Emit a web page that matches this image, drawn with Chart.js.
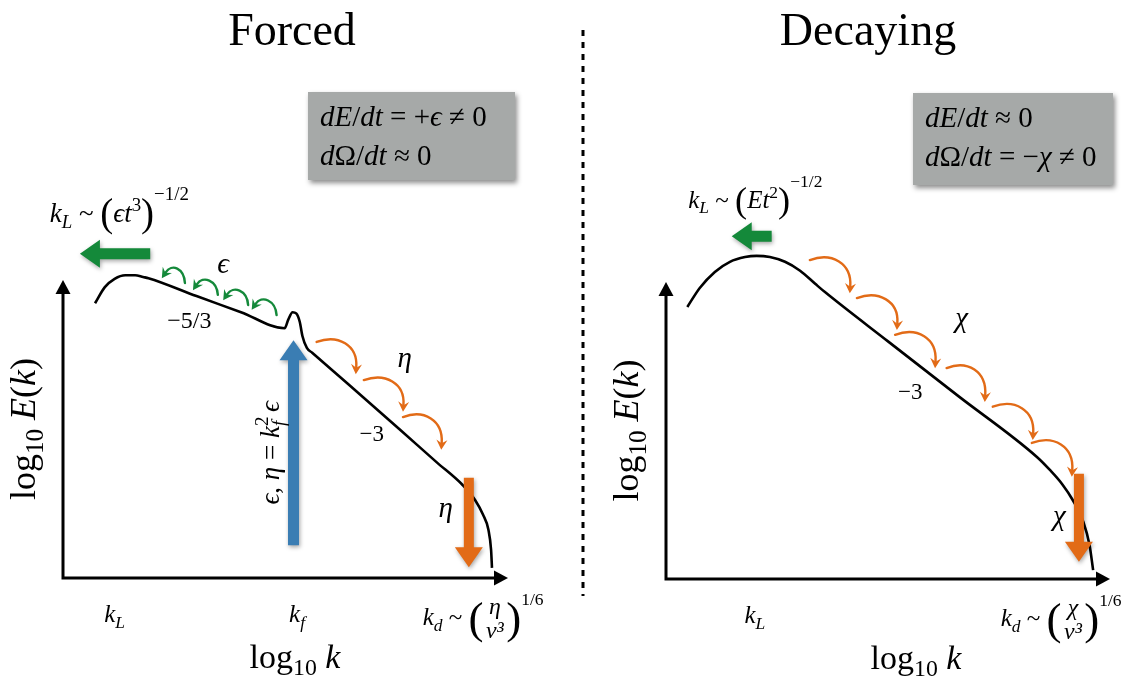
<!DOCTYPE html>
<html>
<head>
<meta charset="utf-8">
<script src="https://cdn.jsdelivr.net/npm/chart.js@4.4.1/dist/chart.umd.min.js"></script>
<style>
  html, body { margin: 0; padding: 0; background: #fff; }
  #wrap { position: relative; width: 1125px; height: 682px; overflow: hidden; }
  #forced { position: absolute; left: 0; top: 0; }
  #decaying { position: absolute; left: 590px; top: 0; }
</style>
</head>
<body>
<div id="wrap">
  <canvas id="forced" width="590" height="682"></canvas>
  <canvas id="decaying" width="535" height="682"></canvas>
</div>
<script>
'use strict';

// energy spectra, log10 k against log10 E(k) (schematic units)
const forcedLogK = [0.36, 0.47, 0.58, 0.70, 0.81, 0.90, 0.96, 1.50, 2.00, 2.49, 2.53, 2.58, 2.62, 2.66, 2.69, 2.74, 2.80, 3.20, 3.80, 4.20, 4.49, 4.63, 4.72, 4.78, 4.81, 4.82];
const forcedLogE = [4.61, 4.88, 5.02, 5.08, 5.08, 5.05, 5.03, 4.73, 4.46, 4.19, 4.33, 4.46, 4.44, 4.30, 4.06, 3.86, 3.78, 3.26, 2.47, 1.94, 1.56, 1.31, 1.06, 0.81, 0.47, 0.17];
const decayLogK = [0.24, 0.38, 0.55, 0.72, 0.89, 1.02, 1.17, 1.34, 1.51, 1.68, 1.79, 2.50, 3.30, 4.18, 4.32, 4.46, 4.58, 4.70, 4.77, 4.81];
const decayLogE = [4.58, 4.90, 5.17, 5.34, 5.42, 5.44, 5.42, 5.34, 5.19, 4.97, 4.83, 4.00, 3.07, 2.05, 1.84, 1.60, 1.33, 0.96, 0.57, 0.15];

// wavenumbers marked under the k axis
const forcedTickNames = ['kL', 'kf', 'kd'];
const forcedTickK = [0.58, 2.63, 4.72];
const decayTickNames = ['kL', 'kd'];
const decayTickK = [1.00, 4.45];

const SERIF = '"Liberation Serif", "DejaVu Serif", serif';
const GREEN = '#14893a', BLUE = '#3a7db3', ORANGE = '#e26b17', BOX = '#a6a9a8';

function setFont(ctx, size, italic) {
  ctx.font = (italic ? 'italic ' : '') + size.toFixed(1) + 'px ' + SERIF;
}

// run styles: i italic, b subscript, p superscript, P superscript after a big bracket,
// L / H big brackets, F stacked fraction 'num|den', z no advance
function mathParts(ctx, runs, size) {
  return runs.map(function (r) {
    let t = r[0], s = r[1] || '', sz = size, dy = 0, w;
    if (s.includes('b')) { sz = size * 0.7; dy = size * 0.22; }
    if (s.includes('p')) { sz = size * 0.7; dy = -size * 0.4; }
    if (s.includes('P')) { sz = size * 0.7; dy = -size * 0.82; }
    if (s.includes('L')) { sz = size * 1.45; dy = size * 0.15; }
    if (s.includes('H')) { sz = size * 1.8; dy = size * 0.3; }
    let it = s.includes('i');
    if (s.includes('F')) {
      let ab = t.split('|');
      sz = size * 0.95;
      setFont(ctx, sz, it);
      w = Math.max(ctx.measureText(ab[0]).width, ctx.measureText(ab[1]).width) + size * 0.2;
    } else {
      setFont(ctx, sz, it);
      w = ctx.measureText(t).width;
    }
    return {t: t, s: s, sz: sz, dy: dy, it: it, w: w, adv: s.includes('z') ? 0 : w};
  });
}

function drawMath(ctx, runs, x, y, size, align) {
  let parts = mathParts(ctx, runs, size),
    total = parts.reduce(function (a, p) { return a + p.adv; }, 0),
    cx = align === 'center' ? x - total / 2 : x;
  ctx.textBaseline = 'alphabetic';
  parts.forEach(function (p) {
    setFont(ctx, p.sz, p.it);
    if (p.s.includes('F')) {
      let ab = p.t.split('|');
      ctx.textAlign = 'center';
      ctx.fillText(ab[0], cx + p.w / 2, y - size * 0.44);
      ctx.fillText(ab[1], cx + p.w / 2, y + size * 0.52);
    } else {
      ctx.textAlign = 'left';
      ctx.fillText(p.t, cx, y + p.dy);
    }
    cx += p.adv;
  });
}

function blockArrow(ctx, x0, y0, x1, y1, shaft, head, headLen, color) {
  let ang = Math.atan2(y1 - y0, x1 - x0), len = Math.hypot(x1 - x0, y1 - y0);
  ctx.save();
  ctx.shadowColor = 'rgba(0,0,0,0.35)';
  ctx.shadowBlur = 4;
  ctx.shadowOffsetX = 1;
  ctx.shadowOffsetY = 2;
  ctx.translate(x0, y0);
  ctx.rotate(ang);
  ctx.beginPath();
  ctx.moveTo(0, -shaft / 2);
  ctx.lineTo(len - headLen, -shaft / 2);
  ctx.lineTo(len - headLen, -head / 2);
  ctx.lineTo(len, 0);
  ctx.lineTo(len - headLen, head / 2);
  ctx.lineTo(len - headLen, shaft / 2);
  ctx.lineTo(0, shaft / 2);
  ctx.closePath();
  ctx.fillStyle = color;
  ctx.fill();
  ctx.restore();
}

// small curved cascade arrow; 'down' hops forward and drops, 'back' loops up and left
function hop(ctx, x0, y0, x1, y1, kind, color) {
  let c1, c2;
  if (kind === 'down') {
    c1 = [x0 + 0.55 * (x1 - x0), y0 - 0.25 * (y1 - y0)];
    c2 = [x1 + 0.05 * (x1 - x0), y0 + 0.1 * (y1 - y0)];
  } else {
    c1 = [x0 - 1, y0 - 15];
    c2 = [x1 + 10, y1 - 15];
  }
  let ang = Math.atan2(y1 - c2[1], x1 - c2[0]), hl = 10, hw = 5.5,
    ex = x1 - Math.cos(ang) * hl * 0.7, ey = y1 - Math.sin(ang) * hl * 0.7;
  ctx.save();
  ctx.strokeStyle = color;
  ctx.fillStyle = color;
  ctx.lineWidth = 2.4;
  ctx.lineCap = 'round';
  ctx.beginPath();
  ctx.moveTo(x0, y0);
  ctx.bezierCurveTo(c1[0], c1[1], c2[0], c2[1], ex, ey);
  ctx.stroke();
  ctx.translate(x1, y1);
  ctx.rotate(ang);
  ctx.beginPath();
  ctx.moveTo(0, 0);
  ctx.lineTo(-hl, -hw);
  ctx.lineTo(-hl * 0.65, 0);
  ctx.lineTo(-hl, hw);
  ctx.closePath();
  ctx.fill();
  ctx.restore();
}

function tickRuns(name) {
  return [['k', 'i'], [name.slice(1), 'ib']];
}

function drawKd(ctx, cx, y, size, sym) {
  drawMath(ctx, [['k', 'i'], ['d', 'ib'], [' ~ ', ''], ['(', 'H'], [sym + '|ν³', 'iF'], [')', 'H'], ['1/6', 'P']], cx, y, size, 'center');
}

// axes, titles, labels and arrows around one spectrum
function decor(spec) {
  return {
    id: 'decor',
    beforeDatasetsDraw: function (chart) {
      let ctx = chart.ctx, a = chart.chartArea,
        x0 = chart.scales.x.getPixelForValue(0), y0 = chart.scales.y.getPixelForValue(0);
      ctx.save();
      ctx.strokeStyle = '#000';
      ctx.fillStyle = '#000';
      ctx.lineWidth = 3;
      ctx.beginPath();
      ctx.moveTo(x0, a.top + 10);
      ctx.lineTo(x0, y0);
      ctx.lineTo(a.right - 10, y0);
      ctx.stroke();
      ctx.beginPath();
      ctx.moveTo(x0, a.top);
      ctx.lineTo(x0 - 7.5, a.top + 14);
      ctx.lineTo(x0 + 7.5, a.top + 14);
      ctx.fill();
      ctx.beginPath();
      ctx.moveTo(a.right, y0);
      ctx.lineTo(a.right - 14, y0 - 7.5);
      ctx.lineTo(a.right - 14, y0 + 7.5);
      ctx.fill();
      ctx.restore();
    },
    afterDraw: function (chart) {
      let ctx = chart.ctx, a = chart.chartArea, sx = chart.scales.x, sy = chart.scales.y,
        px = function (k) { return sx.getPixelForValue(k); },
        py = function (e) { return sy.getPixelForValue(e); };
      ctx.save();
      ctx.fillStyle = '#000';

      setFont(ctx, 46, false);
      ctx.textAlign = 'center';
      ctx.textBaseline = 'alphabetic';
      ctx.fillText(spec.title, spec.titleX, 45);

      // rate box
      ctx.save();
      ctx.shadowColor = 'rgba(0,0,0,0.45)';
      ctx.shadowBlur = 5;
      ctx.shadowOffsetX = 2;
      ctx.shadowOffsetY = 3;
      ctx.fillStyle = BOX;
      ctx.fillRect(spec.box[0], spec.box[1], spec.box[2], spec.box[3]);
      ctx.restore();
      drawMath(ctx, spec.boxLines[0], spec.box[0] + 12, spec.box[1] + 34, 29, 'left');
      drawMath(ctx, spec.boxLines[1], spec.box[0] + 12, spec.box[1] + 73, 29, 'left');

      // axis titles
      ctx.save();
      ctx.translate(a.left - 28, (a.top + a.bottom) / 2);
      ctx.rotate(-Math.PI / 2);
      drawMath(ctx, [['log', ''], ['10', 'b'], [' ', ''], ['E', 'i'], ['(', ''], ['k', 'i'], [')', '']], 0, 0, 36, 'center');
      ctx.restore();
      drawMath(ctx, [['log', ''], ['10', 'b'], [' ', ''], ['k', 'i']], spec.xLabelX, a.bottom + 90, 34, 'center');

      // wavenumber marks
      spec.tickNames.forEach(function (n, i) {
        if (n === 'kd') drawKd(ctx, px(spec.tickK[i]), a.bottom + 47, 25, spec.sym);
        else drawMath(ctx, tickRuns(n), px(spec.tickK[i]), a.bottom + 44, 25, 'center');
      });

      drawMath(ctx, spec.kLRuns, px(spec.kLAt[0]), py(spec.kLAt[1]), spec.kLSize, 'left');

      spec.arrows.forEach(function (r) {
        blockArrow(ctx, px(r[0]), py(r[1]), px(r[2]), py(r[3]), r[5] || 10, 28, 20, r[4]);
      });
      spec.hops.forEach(function (h) {
        hop(ctx, px(h[0]), py(h[1]), px(h[2]), py(h[3]), h[4], h[4] === 'down' ? ORANGE : GREEN);
      });
      spec.labels.forEach(function (l) {
        if (l.rot) {
          ctx.save();
          ctx.translate(px(l.at[0]), py(l.at[1]));
          ctx.rotate(-Math.PI / 2);
          drawMath(ctx, l.runs, 0, 0, l.size, 'center');
          ctx.restore();
        } else {
          drawMath(ctx, l.runs, px(l.at[0]), py(l.at[1]), l.size, 'center');
        }
      });

      if (spec.divider) {
        ctx.strokeStyle = '#000';
        ctx.lineWidth = 3;
        ctx.setLineDash([6, 6]);
        ctx.beginPath();
        ctx.moveTo(spec.divider, 30);
        ctx.lineTo(spec.divider, 596);
        ctx.stroke();
      }
      ctx.restore();
    }
  };
}

function _buildSpectrum(canvas, logK, logE, padding, spec) {
  return new Chart(canvas, {
    type: 'scatter',
    data: {
      datasets: [{
        data: logK.map(function (k, i) { return {x: k, y: logE[i]}; }),
        showLine: true,
        borderColor: '#000',
        borderWidth: 2.6,
        pointRadius: 0,
        cubicInterpolationMode: 'monotone',
        clip: false
      }]
    },
    options: {
      responsive: false,
      animation: false,
      events: [],
      layout: {padding: padding},
      scales: {
        x: {type: 'linear', display: false, min: 0, max: 5},
        y: {type: 'linear', display: false, min: 0, max: 5}
      },
      plugins: {legend: {display: false}, tooltip: {enabled: false}}
    },
    plugins: [decor(spec)]
  });
}

function _buildForced() {
  _buildSpectrum(document.getElementById('forced'), forcedLogK, forcedLogE,
    {left: 63, right: 82, top: 280, bottom: 104}, {
      title: 'Forced', titleX: 292, divider: 583,
      box: [308, 92, 207, 88],
      boxLines: [
        [['d', 'i'], ['E', 'i'], ['/', ''], ['dt', 'i'], [' = +', ''], ['ϵ', 'i'], [' ≠ 0', '']],
        [['d', 'i'], ['Ω', ''], ['/', ''], ['dt', 'i'], [' ≈ 0', '']]
      ],
      xLabelX: 295,
      tickNames: forcedTickNames, tickK: forcedTickK, sym: 'η',
      kLRuns: [['k', 'i'], ['L', 'ib'], [' ~ ', ''], ['(', 'L'], ['ϵ', 'i'], ['t', 'i'], ['3', 'p'], [')', 'L'], ['−1/2', 'P']],
      kLAt: [-0.15, 5.97], kLSize: 27,
      arrows: [
        [0.98, 5.44, 0.19, 5.44, GREEN, 11],
        [2.59, 0.55, 2.59, 3.99, BLUE, 11],
        [4.56, 1.68, 4.56, 0.18, ORANGE, 10]
      ],
      hops: [
        [1.37, 4.95, 1.11, 5.03, 'back'],
        [1.74, 4.75, 1.46, 4.83, 'back'],
        [2.08, 4.58, 1.80, 4.66, 'back'],
        [2.40, 4.41, 2.12, 4.50, 'back'],
        [2.85, 3.96, 3.29, 3.42, 'down'],
        [3.38, 3.32, 3.82, 2.79, 'down'],
        [3.82, 2.70, 4.25, 2.15, 'down']
      ],
      labels: [
        {runs: [['ϵ', 'i']], at: [1.80, 5.12], size: 29},
        {runs: [['−5/3', '']], at: [1.42, 4.19], size: 24},
        {runs: [['η', 'i']], at: [3.84, 3.54], size: 29},
        {runs: [['−3', '']], at: [3.47, 2.30], size: 23},
        {runs: [['η', 'i']], at: [4.30, 1.02], size: 29},
        {runs: [['ϵ', 'i'], [', ', ''], ['η', 'i'], [' = ', ''], ['k', 'i'], ['f', 'ibz'], ['2 ', 'p'], ['ϵ', 'i']], at: [2.43, 2.10], size: 27, rot: true}
      ]
    });
}

function _buildDecaying() {
  _buildSpectrum(document.getElementById('decaying'), decayLogK, decayLogE,
    {left: 76, right: 15, top: 282, bottom: 103}, {
      title: 'Decaying', titleX: 278,
      box: [323, 93, 200, 92],
      boxLines: [
        [['d', 'i'], ['E', 'i'], ['/', ''], ['dt', 'i'], [' ≈ 0', '']],
        [['d', 'i'], ['Ω', ''], ['/', ''], ['dt', 'i'], [' = −', ''], ['χ', 'i'], [' ≠ 0', '']]
      ],
      xLabelX: 326,
      tickNames: decayTickNames, tickK: decayTickK, sym: 'χ',
      kLRuns: [['k', 'i'], ['L', 'ib'], [' ~ ', ''], ['(', 'L'], ['E', 'i'], ['t', 'i'], ['2', 'p'], [')', 'L'], ['−1/2', 'P']],
      kLAt: [0.25, 6.25], kLSize: 25,
      arrows: [
        [1.19, 5.77, 0.74, 5.77, GREEN, 11],
        [4.65, 1.77, 4.65, 0.29, ORANGE, 10]
      ],
      hops: [
        [1.62, 5.37, 2.07, 4.81, 'down'],
        [2.15, 4.73, 2.60, 4.19, 'down'],
        [2.58, 4.11, 3.03, 3.55, 'down'],
        [3.16, 3.55, 3.59, 2.98, 'down'],
        [3.68, 2.90, 4.13, 2.34, 'down'],
        [4.12, 2.29, 4.57, 1.72, 'down']
      ],
      labels: [
        {runs: [['χ', 'i']], at: [3.33, 4.24], size: 29},
        {runs: [['−3', '']], at: [2.75, 3.03], size: 23},
        {runs: [['χ', 'i']], at: [4.43, 0.91], size: 29}
      ]
    });
}

_buildForced();
_buildDecaying();
</script>
</body>
</html>
